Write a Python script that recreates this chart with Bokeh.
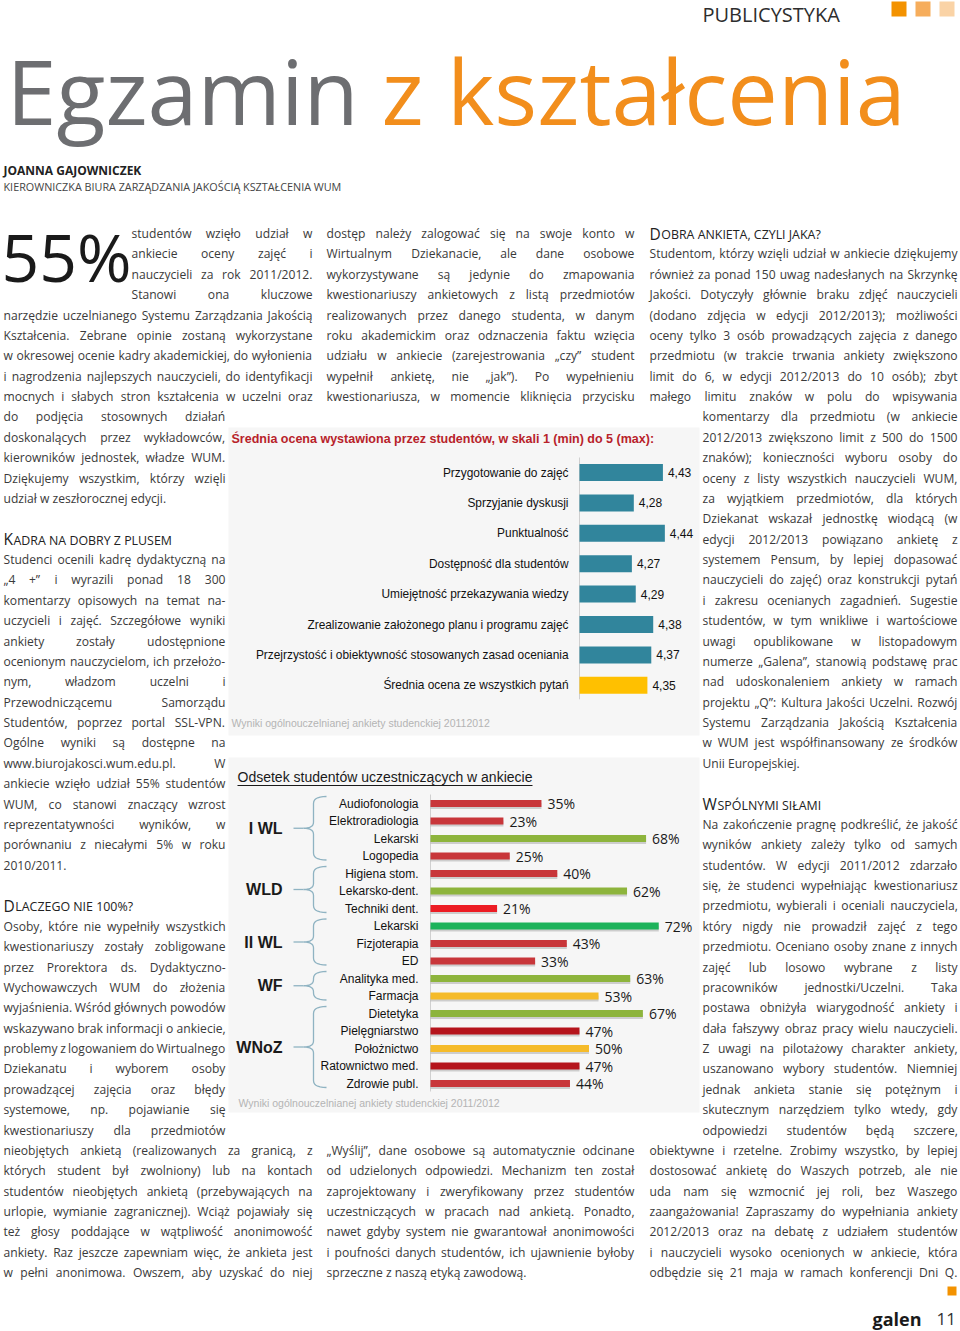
import numpy as np
from bokeh.plotting import figure
from bokeh.models import Range1d, ColumnDataSource
from bokeh.core.properties import value
from bokeh.embed import file_html
from bokeh.resources import INLINE

# ---------------- data: chart 1 ----------------
c1_title = "Średnia ocena wystawiona przez studentów, w skali 1 (min) do 5 (max):"
c1_labels = ["Przygotowanie do zajęć", "Sprzyjanie dyskusji", "Punktualność",
             "Dostępność dla studentów", "Umiejętność przekazywania wiedzy",
             "Zrealizowanie założonego planu i programu zajęć",
             "Przejrzystość i obiektywność stosowanych zasad oceniania",
             "Średnia ocena ze wszystkich pytań"]
c1_values = [4.43, 4.28, 4.44, 4.27, 4.29, 4.38, 4.37, 4.35]
c1_colors = ["#31859c"] * 7 + ["#ffc000"]
c1_source_note = "Wyniki ogólnouczelnianej ankiety studenckiej 20112012"

# ---------------- data: chart 2 ----------------
c2_title = "Odsetek studentów uczestniczących w ankiecie"
c2_labels = ["Audiofonologia", "Elektroradiologia", "Lekarski", "Logopedia",
             "Higiena stom.", "Lekarsko-dent.", "Techniki dent.",
             "Lekarski", "Fizjoterapia", "ED",
             "Analityka med.", "Farmacja",
             "Dietetyka", "Pielęgniarstwo", "Położnictwo", "Ratownictwo med.", "Zdrowie publ."]
c2_values = [35, 23, 68, 25, 40, 62, 21, 72, 43, 33, 63, 53, 67, 47, 50, 47, 44]
RED, BRED, DRED, OLIVE, GREEN, YEL = "#c8363a", "#ec1c24", "#b5141c", "#8db43c", "#1db35b", "#f5bb2a"
c2_colors = [RED, RED, OLIVE, RED, RED, OLIVE, BRED, GREEN, RED, RED, OLIVE, YEL,
             OLIVE, DRED, YEL, DRED, RED]
c2_groups = ["I WL", "WLD", "II WL", "WF", "WNoZ"]
c2_group_sizes = [4, 3, 3, 2, 5]
c2_source_note = "Wyniki ogólnouczelnianej ankiety studenckiej 2011/2012"

# ---------------- page texts ----------------
kicker = "PUBLICYSTYKA"
title_a, title_b = "Egzamin", "z kształcenia"
author = "JOANNA GAJOWNICZEK"
author_role = "KIEROWNICZKA BIURA ZARZĄDZANIA JAKOŚCIĄ KSZTAŁCENIA WUM"
big_number = "55%"

col1 = [
    (0, 131, 312, ["studentów wzięło udział w", "ankiecie oceny zajęć i",
                   "nauczycieli za rok 2011/2012.", "Stanowi ona kluczowe"]),
    (4, 3, 312, ["narzędzie uczelnianego Systemu Zarządzania Jakością",
                 "Kształcenia. Zebrane opinie zostaną wykorzystane",
                 "w okresowej ocenie kadry akademickiej, do wyłonienia",
                 "i nagrodzenia najlepszych nauczycieli, do identyfikacji",
                 "mocnych i słabych stron kształcenia w uczelni oraz"]),
    (9, 3, 225, ["do podjęcia stosownych działań", "doskonalących przez wykładowców,",
                 "kierowników jednostek, władze WUM.", "Dziękujemy wszystkim, którzy wzięli",
                 "udział w zeszłorocznej edycji."]),
    (16, 3, 225, ["Studenci ocenili kadrę dydaktyczną na", "„4 +” i wyrazili ponad 18 300",
                  "komentarzy opisowych na temat na-", "uczycieli i zajęć. Szczegółowe wyniki",
                  "ankiety zostały udostępnione", "ocenionym nauczycielom, ich przełożo-",
                  "nym, władzom uczelni i", "Przewodniczącemu Samorządu",
                  "Studentów, poprzez portal SSL-VPN.", "Ogólne wyniki są dostępne na",
                  "www.biurojakosci.wum.edu.pl. W", "ankiecie wzięło udział 55% studentów",
                  "WUM, co stanowi znaczący wzrost", "reprezentatywności wyników, w",
                  "porównaniu z niecałymi 5% w roku", "2010/2011."]),
    (34, 3, 225, ["Osoby, które nie wypełniły wszystkich", "kwestionariuszy zostały zobligowane",
                  "przez Prorektora ds. Dydaktyczno-", "Wychowawczych WUM do złożenia",
                  "wyjaśnienia. Wśród głównych powodów", "wskazywano brak informacji o ankiecie,",
                  "problemy z logowaniem do Wirtualnego", "Dziekanatu i wyborem osoby",
                  "prowadzącej zajęcia oraz błędy", "systemowe, np. pojawianie się",
                  "kwestionariuszy dla przedmiotów"]),
    (45, 3, 312, ["nieobjętych ankietą (realizowanych za granicą, z",
                  "których student był zwolniony) lub na kontach",
                  "studentów nieobjętych ankietą (przebywających na",
                  "urlopie, wymianie zagranicznej). Wciąż pojawiały się",
                  "też głosy poddające w wątpliwość anonimowość",
                  "ankiety. Raz jeszcze zapewniam więc, że ankieta jest",
                  "w pełni anonimowa. Owszem, aby uzyskać do niej"]),
]
col2 = [
    (0, 326, 634, ["dostęp należy zalogować się na swoje konto w",
                   "Wirtualnym Dziekanacie, ale dane osobowe",
                   "wykorzystywane są jedynie do zmapowania",
                   "kwestionariuszy ankietowych z listą przedmiotów",
                   "realizowanych przez danego studenta, w danym",
                   "roku akademickim oraz odznaczenia faktu wzięcia",
                   "udziału w ankiecie (zarejestrowania „czy” student",
                   "wypełnił ankietę, nie „jak”). Po wypełnieniu",
                   "kwestionariusza, w momencie kliknięcia przycisku"]),
    (45, 326, 634, ["„Wyślij”, dane osobowe są automatycznie odcinane",
                    "od udzielonych odpowiedzi. Mechanizm ten został",
                    "zaprojektowany i zweryfikowany przez studentów",
                    "uczestniczących w pracach nad ankietą. Ponadto,",
                    "nawet gdyby system nie gwarantował anonimowości",
                    "i poufności danych studentów, ich ujawnienie byłoby",
                    "sprzeczne z naszą etyką zawodową."]),
]
col3 = [
    (1, 649, 957, ["Studentom, którzy wzięli udział w ankiecie dziękujemy",
                   "również za ponad 150 uwag nadesłanych na Skrzynkę",
                   "Jakości. Dotyczyły głównie braku zdjęć nauczycieli",
                   "(dodano zdjęcia w edycji 2012/2013); możliwości",
                   "oceny tylko 3 osób prowadzących zajęcia z danego",
                   "przedmiotu (w trakcie trwania ankiety zwiększono",
                   "limit do 6, w edycji 2012/2013 do 10 osób); zbyt",
                   "małego limitu znaków w polu do wpisywania"]),
    (9, 702, 957, ["komentarzy dla przedmiotu (w ankiecie",
                   "2012/2013 zwiększono limit z 500 do 1500",
                   "znaków); konieczności wyboru osoby do",
                   "oceny z listy wszystkich nauczycieli WUM,",
                   "za wyjątkiem przedmiotów, dla których",
                   "Dziekanat wskazał jednostkę wiodącą (w",
                   "edycji 2012/2013 powiązano ankietę z",
                   "systemem Pensum, by lepiej dopasować",
                   "nauczycieli do zajęć) oraz konstrukcji pytań",
                   "i zakresu ocenianych zagadnień. Sugestie",
                   "studentów, w tym wnikliwe i wartościowe",
                   "uwagi opublikowane w listopadowym",
                   "numerze „Galena”, stanowią podstawę prac",
                   "nad udoskonaleniem ankiety w ramach",
                   "projektu „Q”: Kultura Jakości Uczelni. Rozwój",
                   "Systemu Zarządzania Jakością Kształcenia",
                   "w WUM jest współfinansowany ze środków",
                   "Unii Europejskiej."]),
    (29, 702, 957, ["Na zakończenie pragnę podkreślić, że jakość",
                    "wyników ankiety zależy tylko od samych",
                    "studentów. W edycji 2011/2012 zdarzało",
                    "się, że studenci wypełniając kwestionariusz",
                    "przedmiotu, wybierali i oceniali nauczyciela,",
                    "który nigdy nie prowadził zajęć z tego",
                    "przedmiotu. Oceniano osoby znane z innych",
                    "zajęć lub losowo wybrane z listy",
                    "pracowników jednostki/Uczelni. Taka",
                    "postawa obniżyła wiarygodność ankiety i",
                    "dała fałszywy obraz pracy wielu nauczycieli.",
                    "Z uwagi na pilotażowy charakter ankiety,",
                    "uszanowano wybory studentów. Niemniej",
                    "jednak ankieta stanie się potężnym i",
                    "skutecznym narzędziem tylko wtedy, gdy",
                    "odpowiedzi studentów będą szczere,"]),
    (45, 649, 957, ["obiektywne i rzetelne. Zrobimy wszystko, by lepiej",
                    "dostosować ankietę do Waszych potrzeb, ale nie",
                    "uda nam się wzmocnić jej roli, bez Waszego",
                    "zaangażowania! Zapraszamy do wypełniania ankiety",
                    "2012/2013 oraz na debatę z udziałem studentów",
                    "i nauczycieli wysoko ocenionych w ankiecie, która",
                    "odbędzie się 21 maja w ramach konferencji Dni Q."]),
]
last_lines = {"udział w zeszłorocznej edycji.", "2010/2011.",
              "sprzeczne z naszą etyką zawodową.", "Unii Europejskiej."}
headings = [(15, 3, "KADRA NA DOBRY Z PLUSEM"), (33, 3, "DLACZEGO NIE 100%?"),
            (0, 649, "DOBRA ANKIETA, CZYLI JAKA?"), (28, 702, "WSPÓLNYMI SIŁAMI")]
footer_name, footer_page = "galen", "11"

# ---------------- layout constants ----------------
GRID0, GRID_DY = 233.0, 20.375
BODY_FS = 12.1
BODY_FONT = "Open Sans"
BODY_COLOR = "#3a3a3a"
C1_X0, C1_K, C1_BASE = 579.0, 194.0, 4.0     # px of base value, px per unit
C1_Y0, C1_DY = 472.0, 30.4
C2_X0, C2_K = 430.0, 3.17                      # px of 0 %, px per %
C2_Y0, C2_DY = 803.0, 17.5
W, H = 960, 1331

# Open Sans advance widths (units per em 2048) for justification
OSW = {' ': 532, 'a': 1139, 'b': 1255, 'c': 975, 'd': 1255, 'e': 1149, 'f': 694, 'g': 1122,
       'h': 1257, 'i': 518, 'j': 518, 'k': 1075, 'l': 518, 'm': 1905, 'n': 1257, 'o': 1237,
       'p': 1255, 'q': 1255, 'r': 836, 's': 977, 't': 723, 'u': 1257, 'v': 1026, 'w': 1593,
       'x': 1073, 'y': 1028, 'z': 937, 'A': 1296, 'B': 1327, 'C': 1292, 'D': 1493, 'E': 1139,
       'F': 1057, 'G': 1491, 'H': 1511, 'I': 571, 'J': 547, 'K': 1257, 'L': 1081, 'M': 1837,
       'N': 1581, 'O': 1599, 'P': 1245, 'Q': 1599, 'R': 1284, 'S': 1124, 'T': 1130, 'U': 1509,
       'V': 1243, 'W': 1925, 'X': 1216, 'Y': 1165, 'Z': 1157, '.': 545, ',': 502, ':': 545,
       ';': 545, '(': 607, ')': 607, '-': 659, '/': 752, '%': 1696, '!': 547, '?': 879,
       '„': 799, '”': 799, '"': 821, '+': 1171, 'ł': 590, 'Ł': 1100}
PL = str.maketrans("ąćęńóśźżĄĆĘŃÓŚŹŻ", "acenoszzACENOSZZ")


def tw(s, fs):
    return sum(OSW.get(ch, 1171 if ch.isdigit() else 1100) for ch in s.translate(PL)) / 2048.0 * fs


p = figure(width=W, height=H, x_range=Range1d(0, W), y_range=Range1d(H, 0),
           output_backend="svg", toolbar_location=None, x_axis_type=None, y_axis_type=None,
           min_border=0, title=None)
p.outline_line_color = None
p.background_fill_color = "white"
p.border_fill_color = "white"
p.extra_x_ranges = {
    "c1": Range1d(C1_BASE + (0 - C1_X0) / C1_K, C1_BASE + (W - C1_X0) / C1_K),
    "c2": Range1d((0 - C2_X0) / C2_K, (W - C2_X0) / C2_K),
}


def txt(xs, ys, texts, font, size, color, align="left", baseline="middle", style="normal",
        rng="default", x_offset=0):
    src = ColumnDataSource(dict(x=list(xs), y=list(ys), text=list(texts)))
    p.text(x="x", y="y", text="text", source=src, text_font=value(font),
           text_font_size=value(f"{size}px"), text_color=color, text_align=align,
           text_baseline=baseline, text_font_style=style, x_range_name=rng, x_offset=x_offset)


# ---------------- header ----------------
txt([702], [14], [kicker], "Open Sans", 20, "#2d2d2d")
p.quad(left=[891, 915, 939], right=[906, 930, 954], top=[1, 1, 1], bottom=[16, 16, 16],
       fill_color=["#f39200", "#f6ad5c", "#fad3a6"], line_color=None)
txt([6], [89], [title_a], "Open Sans", 90, "#6d6e71")
txt([381], [89], [title_b], "Open Sans", 90, "#f28e1c")
txt([3], [170], [author], "Open Sans", 12, "#222222", style="bold")
txt([3], [186], [author_role], "Open Sans", 10.8, "#444444")
txt([1], [255], [big_number], "Open Sans", 66, "#1a1a1a")

# ---------------- body text ----------------
bx, by, bt = [], [], []
for block in (col1, col2, col3):
    for k0, x0, x1, lines in block:
        for j, line in enumerate(lines):
            y = GRID0 + (k0 + j) * GRID_DY
            words = line.split(" ")
            if line in last_lines or len(words) == 1:
                bx.append(x0); by.append(y); bt.append(line)
                continue
            widths = [tw(w, BODY_FS) for w in words]
            gap = (x1 - x0 - sum(widths)) / (len(words) - 1)
            x = x0
            for w, wd in zip(words, widths):
                bx.append(x); by.append(y); bt.append(w)
                x += wd + gap
txt(bx, by, bt, BODY_FONT, BODY_FS, BODY_COLOR)

# small-caps style headings
hx1, hy1, ht1, hx2, ht2 = [], [], [], [], []
for k, x0, h in headings:
    y = GRID0 + k * GRID_DY
    hx1.append(x0); hy1.append(y); ht1.append(h[0])
    hx2.append(x0 + tw(h[0], 15.5) + 0.5); ht2.append(h[1:])
txt(hx1, hy1, ht1, "Open Sans", 15.5, "#222222")
txt(hx2, [y + 1 for y in hy1], ht2, "Open Sans", 12.4, "#222222")

# ---------------- chart 1 ----------------
p.quad(left=[228], right=[699], top=[427], bottom=[735], fill_color="#f6f6f6", line_color=None)
txt([231], [438], [c1_title], "Liberation Sans", 12.5, "#b8222a", style="bold")
c1_y = [C1_Y0 + i * C1_DY for i in range(len(c1_values))]
p.segment(x0=[C1_BASE], x1=[C1_BASE], y0=[c1_y[0] - 15], y1=[c1_y[-1] + 14],
          line_color="#cfcfcf", line_width=1, x_range_name="c1")
p.hbar(y=c1_y, left=C1_BASE, right=c1_values, height=17, fill_color=c1_colors,
       line_color=None, x_range_name="c1")
txt([C1_BASE] * len(c1_labels), c1_y, c1_labels, "Liberation Sans", 11.9, "#111111",
    align="right", rng="c1", x_offset=-11)
txt(c1_values, c1_y, [f"{v:.2f}".replace(".", ",") for v in c1_values],
    "Liberation Sans", 12, "#111111", rng="c1", x_offset=5)
txt([231], [722], [c1_source_note], "Liberation Sans", 10.5, "#b4b4b4")

# ---------------- chart 2 ----------------
p.quad(left=[228], right=[699], top=[757], bottom=[1112], fill_color="#f6f6f6", line_color=None)
txt([237], [776], [c2_title], "Liberation Sans", 14, "#1a1a1a")
p.segment(x0=[237], x1=[532], y0=[785], y1=[785], line_color="#1a1a1a", line_width=1)
c2_y = [C2_Y0 + i * C2_DY for i in range(len(c2_values))]
p.segment(x0=[0], x1=[0], y0=[c2_y[0] - 9], y1=[c2_y[-1] + 8], line_color="#d0d0d0",
          line_width=1, x_range_name="c2")
p.hbar(y=[y + 2.5 for y in c2_y], left=0, right=c2_values, height=6, fill_color="#9c9c9c",
       fill_alpha=0.45, line_color=None, x_range_name="c2")
p.hbar(y=c2_y, left=0, right=c2_values, height=7, fill_color=c2_colors, line_color=None,
       x_range_name="c2")
txt([0] * len(c2_labels), c2_y, c2_labels, "Liberation Sans", 12, "#111111", align="right",
    rng="c2", x_offset=-12)
txt(c2_values, c2_y, [f"{v}%" for v in c2_values], "Open Sans", 14, "#1a1a1a", rng="c2",
    x_offset=6)

# group labels with braces
gx, gy, bxs, bys, tx0, ty = [], [], [], [], [], []


def quad_pts(p0, c, p1, n=8):
    t = np.linspace(0, 1, n)
    x = (1 - t) ** 2 * p0[0] + 2 * (1 - t) * t * c[0] + t ** 2 * p1[0]
    y = (1 - t) ** 2 * p0[1] + 2 * (1 - t) * t * c[1] + t ** 2 * p1[1]
    return list(x), list(y)


start = 0
for name, n in zip(c2_groups, c2_group_sizes):
    top = c2_y[start] - 7
    bot = c2_y[start + n - 1] + 4
    mid = (top + bot) / 2
    xs, ys = [], []
    for seg in (((326, top), (313, top), (313, top + 7)),
                ((313, mid - 6), (313, mid), (303, mid)),
                ((303, mid), (313, mid), (313, mid + 6)),
                ((313, bot - 7), (313, bot), (326, bot))):
        a, b = quad_pts(*seg)
        xs += a; ys += b
    bxs.append(xs); bys.append(ys)
    tx0.append(293); ty.append(mid)
    gx.append(282); gy.append(mid)
    start += n
p.multi_line(xs=bxs, ys=bys, line_color="#8fb3c2", line_width=1.3)
p.segment(x0=tx0, x1=[303] * len(tx0), y0=ty, y1=ty, line_color="#8fb3c2", line_width=1.3)
txt(gx, gy, c2_groups, "Liberation Sans", 16, "#1a1a1a", align="right", style="bold")
txt([238], [1102], [c2_source_note], "Liberation Sans", 10.5, "#b4b4b4")

# ---------------- footer ----------------
p.quad(left=[947], right=[956], top=[1286], bottom=[1295], fill_color="#f39200", line_color=None)
txt([872], [1318], [footer_name], "Open Sans", 18, "#1a1a1a", style="bold")
txt([936], [1318], [footer_page], "Open Sans", 17, "#333333")

open("out.html", "w").write(file_html(p, INLINE))
